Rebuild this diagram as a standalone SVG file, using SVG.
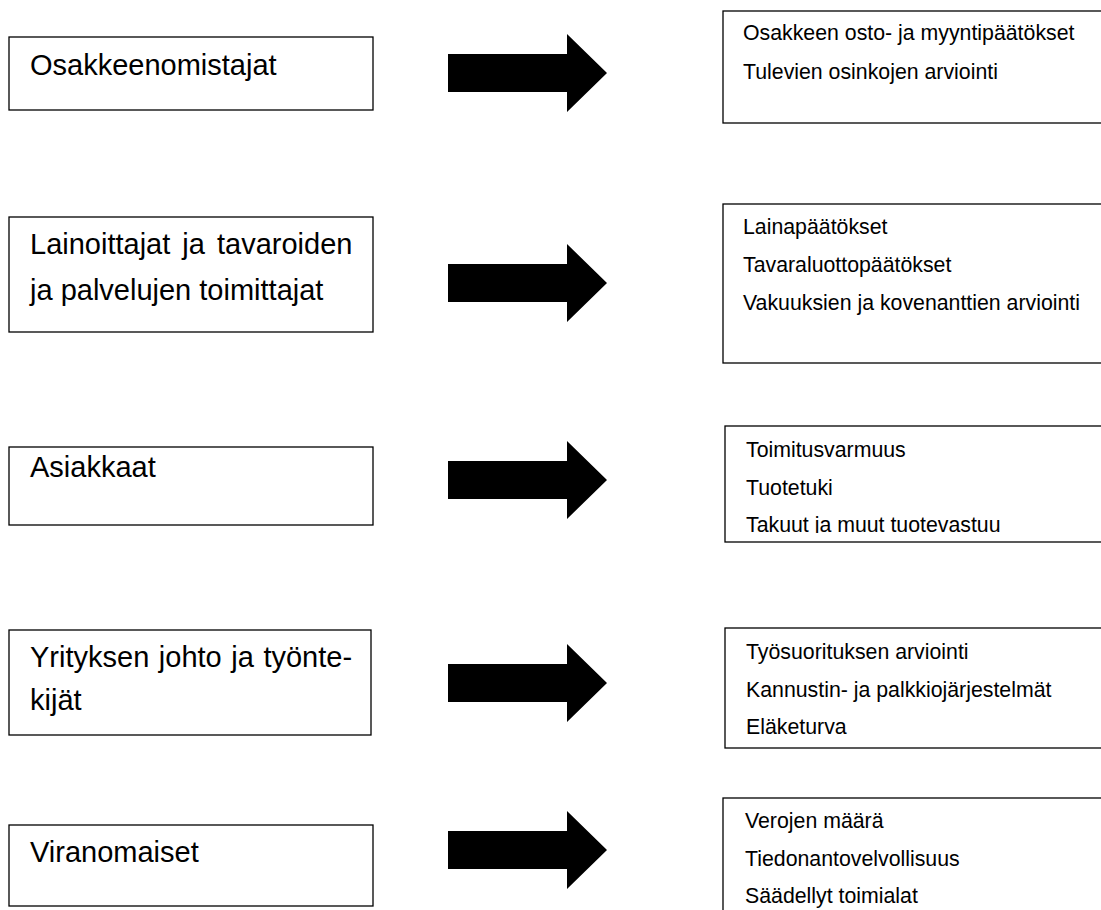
<svg xmlns="http://www.w3.org/2000/svg" width="1101" height="910" viewBox="0 0 1101 910">
<style>
.box{fill:#fff;stroke:#000;stroke-width:1.3}
.t{font-family:"Liberation Sans",Arial,sans-serif;font-size:29px;fill:#000}
.s{font-family:"Liberation Sans",Arial,sans-serif;font-size:21.3px;fill:#000}
.arr{fill:#000}
</style>
<defs>
<path id="arrow" d="M448,-19 L567,-19 L567,-39 L607,0 L567,39 L567,19 L448,19 Z"/>
<clipPath id="c3"><rect x="720" y="420" width="390" height="113"/></clipPath>
</defs>
<rect width="1101" height="910" fill="#fff"/>

<g id="source1">
<rect class="box" x="9" y="37" width="364" height="73"/>
<text class="t" x="30" y="75">Osakkeenomistajat</text>
</g>
<g id="source2">
<rect class="box" x="9" y="217" width="364" height="115"/>
<text class="t" x="30" y="254" word-spacing="4">Lainoittajat ja tavaroiden</text>
<text class="t" x="30" y="300">ja palvelujen toimittajat</text>
</g>
<g id="source3">
<rect class="box" x="9" y="447" width="364" height="78"/>
<text class="t" x="30" y="477">Asiakkaat</text>
</g>
<g id="source4">
<rect class="box" x="9" y="630" width="362" height="105"/>
<text class="t" x="30" y="667" word-spacing="1.5">Yrityksen johto ja työnte-</text>
<text class="t" x="30" y="710">kijät</text>
</g>
<g id="source5">
<rect class="box" x="9" y="825" width="364" height="81"/>
<text class="t" x="30" y="862">Viranomaiset</text>
</g>

<g id="connectors">
<use href="#arrow" class="arr" transform="translate(0,73)"/>
<use href="#arrow" class="arr" transform="translate(0,283)"/>
<use href="#arrow" class="arr" transform="translate(0,480)"/>
<use href="#arrow" class="arr" transform="translate(0,683)"/>
<use href="#arrow" class="arr" transform="translate(0,850)"/>
</g>

<g id="target1">
<rect class="box" x="723" y="11" width="390" height="112"/>
<text class="s" x="743" y="40">Osakkeen osto- ja myyntipäätökset</text>
<text class="s" x="743" y="79">Tulevien osinkojen arviointi</text>
</g>
<g id="target2">
<rect class="box" x="723" y="204" width="390" height="159"/>
<text class="s" x="743" y="234">Lainapäätökset</text>
<text class="s" x="743" y="272">Tavaraluottopäätökset</text>
<text class="s" x="743" y="310">Vakuuksien ja kovenanttien arviointi</text>
</g>
<g id="target3">
<rect class="box" x="725" y="426" width="390" height="116"/>
<text class="s" x="746" y="457">Toimitusvarmuus</text>
<text class="s" x="746" y="495">Tuotetuki</text>
<text class="s" x="746" y="532" clip-path="url(#c3)">Takuut ja muut tuotevastuu</text>
</g>
<g id="target4">
<rect class="box" x="725" y="628" width="390" height="120"/>
<text class="s" x="746" y="659">Työsuorituksen arviointi</text>
<text class="s" x="746" y="697">Kannustin- ja palkkiojärjestelmät</text>
<text class="s" x="746" y="734">Eläketurva</text>
</g>
<g id="target5">
<rect class="box" x="723" y="798" width="390" height="130"/>
<text class="s" x="745" y="828">Verojen määrä</text>
<text class="s" x="745" y="866">Tiedonantovelvollisuus</text>
<text class="s" x="745" y="903">Säädellyt toimialat</text>
</g>
</svg>
